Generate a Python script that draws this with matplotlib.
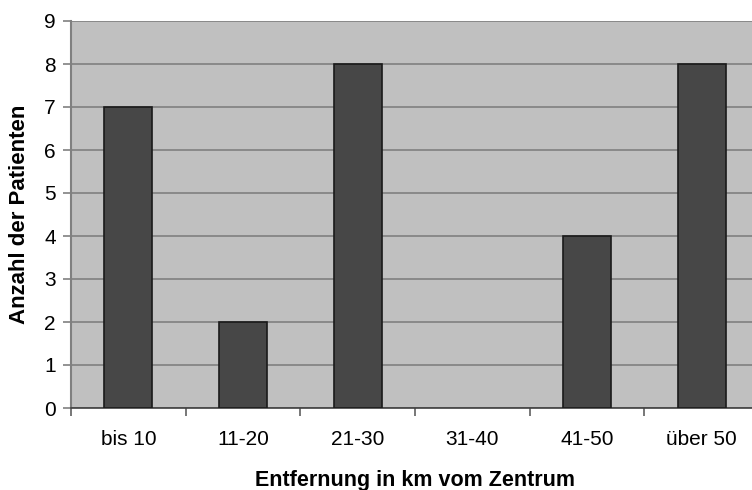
import numpy as np
import matplotlib
matplotlib.use("Agg")
import matplotlib.pyplot as plt

categories = ["bis 10", "11-20", "21-30", "31-40", "41-50", "über 50"]
patients = [7, 2, 8, 0, 4, 8]

plt.rcParams["font.family"] = ["Liberation Sans", "DejaVu Sans"]

fig = plt.figure(figsize=(7.52, 4.90), dpi=100)
ax = fig.add_axes([71 / 752, 1 - 408 / 490, 688 / 752, 387 / 490])
ax.set_facecolor("#c0c0c0")

x = np.arange(len(categories))
# empty classes get no outline
edges = ["#1a1a1a" if v > 0 else "none" for v in patients]
ax.bar(x, patients, width=0.42, color="#474747", edgecolor=edges,
       linewidth=1.2, zorder=3)

ax.set_xlim(-0.5, len(categories) - 0.5)
ax.set_ylim(0, 9)
ax.set_yticks(range(10))
ax.yaxis.grid(True, color="#808080", linewidth=1.2, zorder=0)

# category labels centred, tick marks on the boundaries
ax.set_xticks(x)
ax.set_xticklabels(categories)
ax.set_xticks(np.arange(-0.5, len(categories), 1), minor=True)
ax.tick_params(axis="x", which="major", length=0, pad=16, labelsize=15)
ax.tick_params(axis="x", which="minor", length=6, color="#606060", width=1.2)
ax.tick_params(axis="y", length=6, color="#808080", width=1.2, labelsize=15, pad=5)

for side in ["top", "right"]:
    ax.spines[side].set_visible(False)
ax.spines["left"].set_color("#808080")
ax.spines["left"].set_linewidth(1.5)
ax.spines["bottom"].set_color("#404040")
ax.spines["bottom"].set_linewidth(1.2)

ax.set_xlabel("Entfernung in km vom Zentrum", fontsize=15.5, fontweight="bold", labelpad=15)
ax.set_ylabel("Anzahl der Patienten", fontsize=16, fontweight="bold", labelpad=10)

fig.savefig("out.png", dpi=100)
